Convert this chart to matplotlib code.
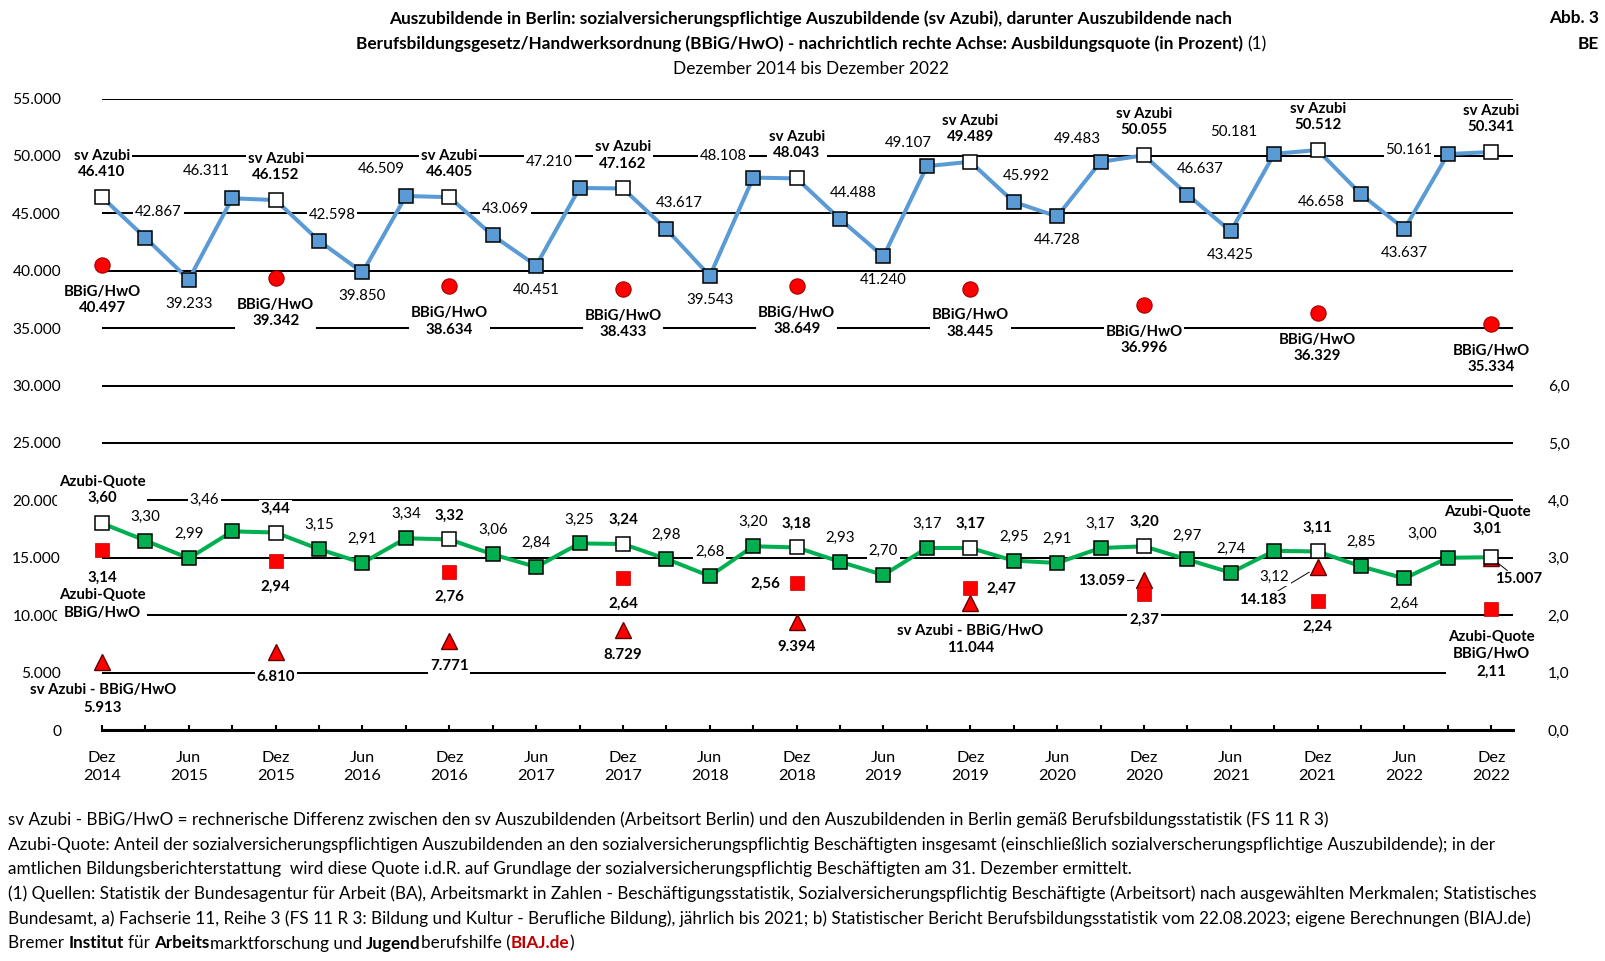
import matplotlib
matplotlib.use("Agg")
import matplotlib.pyplot as plt

plt.rcParams['font.family'] = ['Lato', 'DejaVu Sans']

DPI = 100
W, H = 1605, 961

# Daten (Quartale Dez 2014 bis Dez 2022)
tick_labels = ["Dez\n2014", "Jun\n2015", "Dez\n2015", "Jun\n2016", "Dez\n2016", "Jun\n2017",
               "Dez\n2017", "Jun\n2018", "Dez\n2018", "Jun\n2019", "Dez\n2019", "Jun\n2020",
               "Dez\n2020", "Jun\n2021", "Dez\n2021", "Jun\n2022", "Dez\n2022"]

sv_azubi = [46410, 42867, 39233, 46311, 46152, 42598, 39850, 46509, 46405,
            43069, 40451, 47210, 47162, 43617, 39543, 48108, 48043,
            44488, 41240, 49107, 49489, 45992, 44728, 49483, 50055,
            46637, 43425, 50181, 50512, 46658, 43637, 50161, 50341]

azubi_quote = [3.60, 3.30, 2.99, 3.46, 3.44, 3.15, 2.91, 3.34, 3.32,
               3.06, 2.84, 3.25, 3.24, 2.98, 2.68, 3.20, 3.18,
               2.93, 2.70, 3.17, 3.17, 2.95, 2.91, 3.17, 3.20,
               2.97, 2.74, 3.12, 3.11, 2.85, 2.64, 3.00, 3.01]

# jeweils Dezember
bbig_hwo = [40497, 39342, 38634, 38433, 38649, 38445, 36996, 36329, 35334]
quote_bbig = [3.14, 2.94, 2.76, 2.64, 2.56, 2.47, 2.37, 2.24, 2.11]
diff_sv_bbig = [5913, 6810, 7771, 8729, 9394, 11044, 13059, 14183, 15007]

footer = [
    "sv Azubi - BBiG/HwO = rechnerische Differenz zwischen den sv Auszubildenden (Arbeitsort Berlin) und den Auszubildenden in Berlin gemäß Berufsbildungsstatistik (FS 11 R 3)",
    "Azubi-Quote: Anteil der sozialversicherungspflichtigen Auszubildenden an den sozialversicherungspflichtig Beschäftigten insgesamt (einschließlich sozialverscherungspflichtige Auszubildende); in der",
    "amtlichen Bildungsberichterstattung  wird diese Quote i.d.R. auf Grundlage der sozialversicherungspflichtig Beschäftigten am 31. Dezember ermittelt.",
    "(1) Quellen: Statistik der Bundesagentur für Arbeit (BA), Arbeitsmarkt in Zahlen - Beschäftigungsstatistik, Sozialversicherungspflichtig Beschäftigte (Arbeitsort) nach ausgewählten Merkmalen; Statistisches",
    "Bundesamt, a) Fachserie 11, Reihe 3 (FS 11 R 3: Bildung und Kultur - Berufliche Bildung), jährlich bis 2021; b) Statistischer Bericht Berufsbildungsstatistik vom 22.08.2023; eigene Berechnungen (BIAJ.de)",
]

BLUE = '#5B9BD5'
GREEN = '#00B050'
RED = '#FF0000'
LBL = 10.8


def fmt_int(v):
    return f"{v:,}".replace(",", ".")


def fmt_q(v):
    return f"{v:.2f}".replace(".", ",")


def off(dx, dy):
    # Pixel-Versatz (y nach unten) -> Punkte
    return (dx * 72 / DPI, -dy * 72 / DPI)


def label(ax, x, y, txt, dxdy, bold=False, ls=1.2, leader=False):
    kw = {}
    if leader:
        kw['arrowprops'] = dict(arrowstyle='-', color='black', lw=0.7, shrinkA=0, shrinkB=7)
    ax.annotate(txt, xy=(x, y), xytext=off(*dxdy), textcoords='offset points',
                ha='center', va='center', fontsize=LBL, linespacing=ls,
                fontweight='bold' if bold else 'normal', annotation_clip=False,
                bbox=dict(boxstyle='square,pad=0.12', fc='white', ec='none'),
                zorder=20, **kw)


def text_width(fig, r, s, size, weight):
    # Vorschubbreite ueber Referenzzeichen messen
    t = fig.text(0, 0, "I" + s + "I", fontsize=size, fontweight=weight)
    w_all = t.get_window_extent(r).width
    t.set_text("II")
    w_ref = t.get_window_extent(r).width
    t.remove()
    return w_all - w_ref


def draw_runs(fig, x_px, y_px, runs, size, center=False):
    r = fig.canvas.get_renderer()
    widths = [text_width(fig, r, txt, size, weight) for txt, weight, _ in runs]
    total = sum(widths)
    x = x_px - total / 2 if center else x_px
    for (txt, weight, color), w in zip(runs, widths):
        core = txt.lstrip(" ")
        lead = text_width(fig, r, txt[:len(txt) - len(core)], size, weight) if core != txt else 0
        fig.text((x + lead) / W, 1 - y_px / H, core, fontsize=size, fontweight=weight,
                 color=color, ha='left', va='center')
        x += w


fig = plt.figure(figsize=(W / DPI, H / DPI), dpi=DPI)
ax = fig.add_axes([102 / W, 1 - 730 / H, (1513 - 102) / W, (730 - 98.5) / H])
ax2 = ax.twinx()

xs = list(range(len(sv_azubi)))
dez = xs[::4]

ax.set_xlim(0, 32.5)
ax.set_ylim(0, 55000)
ax2.set_ylim(0, 11)

# Gitter / Achsen
ax.set_yticks(range(0, 55001, 5000))
ax.set_yticklabels([fmt_int(v) for v in range(0, 55001, 5000)])
ax.grid(axis='y', color='black', lw=1.45, zorder=0)
ax.set_axisbelow(True)
ax.set_xticks(xs[::2])
ax.set_xticklabels(tick_labels, linespacing=1.4)
ax.set_xticks(xs[1::2], minor=True)
ax.tick_params(axis='x', which='both', direction='in', length=3.5, width=1.5, pad=15, labelsize=11.8)
ax.tick_params(axis='y', length=0, pad=29.5, labelsize=11.2)
for s in ['top', 'left', 'right']:
    ax.spines[s].set_visible(False)
    ax2.spines[s].set_visible(False)
ax.spines['bottom'].set_linewidth(2.2)
ax2.spines['bottom'].set_visible(False)
ax2.set_yticks(range(7))
ax2.set_yticklabels([f"{v},0" for v in range(7)])
ax2.tick_params(axis='y', length=0, pad=25, labelsize=11.2)

# sv Azubi (blau)
ax.plot(xs, sv_azubi, color=BLUE, lw=2.9, zorder=3, clip_on=False)
ax.plot([x for x in xs if x % 4], [v for i, v in enumerate(sv_azubi) if i % 4], 's', ms=9.6,
        mfc=BLUE, mec='black', mew=1.1, zorder=4, clip_on=False)
ax.plot(dez, sv_azubi[::4], 's', ms=9.6, mfc='white', mec='black', mew=1.1, zorder=4, clip_on=False)

# BBiG/HwO (rote Kreise), Differenz (rote Dreiecke)
ax.plot(dez, bbig_hwo, 'o', ms=11, mfc=RED, mec='#A00000', mew=0.8, zorder=4, clip_on=False)
ax.plot(dez, diff_sv_bbig, '^', ms=11, mfc=RED, mec='#600000', mew=1.0, zorder=4, clip_on=False)

# Azubi-Quote (gruen), Quote BBiG/HwO (rote Quadrate) auf rechter Achse
ax2.plot(dez, quote_bbig, 's', ms=9.8, mfc=RED, mec='#C00000', mew=0.5, zorder=3, clip_on=False)
ax2.plot(xs, azubi_quote, color=GREEN, lw=2.9, zorder=4, clip_on=False)
ax2.plot([x for x in xs if x % 4], [v for i, v in enumerate(azubi_quote) if i % 4], 's', ms=9.6,
         mfc=GREEN, mec='black', mew=1.1, zorder=5, clip_on=False)
ax2.plot(dez, azubi_quote[::4], 's', ms=9.6, mfc='white', mec='black', mew=1.1, zorder=5, clip_on=False)

# Beschriftungen blau
blue_sep = [(-26, -27), (-25, -27), (-30, -26), (-30, -22), (-19, -23), (-23, -23), (-40, -22), (-39, -4)]
for i, v in enumerate(sv_azubi):
    q = i % 4
    if q == 0:
        label(ax, i, v, "sv Azubi\n" + fmt_int(v), (0, -33), bold=True)
        continue
    if i == 29:
        d = (-40, 8)
    elif q == 1:
        d = (13, -26)
    elif q == 2:
        d = (0, 24)
    else:
        d = blue_sep[i // 4]
    label(ax, i, v, fmt_int(v), d)

# Beschriftungen gruen
green_exc = {3: (-28, -31), 27: (0, 26), 30: (0, 25), 31: (-26, -24)}
for i, v in enumerate(azubi_quote):
    if i == 0:
        label(ax2, i, v, "Azubi-Quote\n" + fmt_q(v), (0, -33.5), bold=True)
    elif i == 32:
        label(ax2, i, v, "Azubi-Quote\n" + fmt_q(v), (-4, -37), bold=True)
    else:
        label(ax2, i, v, fmt_q(v), green_exc.get(i, (0, -24)), bold=(i % 4 == 0))

# Beschriftungen Dezember-Reihen
for j, x in enumerate(dez):
    label(ax, x, bbig_hwo[j], "BBiG/HwO\n" + fmt_int(bbig_hwo[j]), (0, 35), bold=True)

    q = fmt_q(quote_bbig[j])
    if j == 0:
        label(ax2, x, quote_bbig[j], q + "\nAzubi-Quote\nBBiG/HwO", (0, 45.7), bold=True, ls=1.3)
    elif j == 8:
        label(ax2, x, quote_bbig[j], "Azubi-Quote\nBBiG/HwO\n" + q, (0, 45.3), bold=True, ls=1.3)
    elif j == 4:
        label(ax2, x, quote_bbig[j], q, (-31, 1), bold=True)
    elif j == 5:
        label(ax2, x, quote_bbig[j], q, (31, 1), bold=True)
    else:
        label(ax2, x, quote_bbig[j], q, (0, 25.5), bold=True)

    d = fmt_int(diff_sv_bbig[j])
    if j == 0:
        label(ax, x, diff_sv_bbig[j], "sv Azubi - BBiG/HwO\n" + d, (1, 37), bold=True, ls=1.3)
    elif j == 5:
        label(ax, x, diff_sv_bbig[j], "sv Azubi - BBiG/HwO\n" + d, (0, 36), bold=True, ls=1.3)
    elif j == 6:
        label(ax, x, diff_sv_bbig[j], d, (-42.5, 1), bold=True, leader=True)
    elif j == 7:
        label(ax, x, diff_sv_bbig[j], d, (-54.5, 32.7), bold=True, leader=True)
    elif j == 8:
        label(ax, x, diff_sv_bbig[j], d, (27, 21.7), bold=True, leader=True)
    else:
        label(ax, x, diff_sv_bbig[j], d, (0, 25), bold=True)

# Titel
fig.canvas.draw()
TS = 12.4
draw_runs(fig, 811, 18.4, [("Auszubildende in Berlin: sozialversicherungspflichtige Auszubildende (sv Azubi), darunter Auszubildende nach", 'bold', 'black')], TS, center=True)
draw_runs(fig, 811, 44, [("Berufsbildungsgesetz/Handwerksordnung (BBiG/HwO) - nachrichtlich rechte Achse: Ausbildungsquote (in Prozent)", 'bold', 'black'),
                         (" (1)", 'normal', 'black')], TS, center=True)
fig.text(811 / W, 1 - 68.6 / H, "Dezember 2014 bis Dezember 2022", ha='center', va='center', fontsize=TS)
fig.text(1599 / W, 1 - 18.4 / H, "Abb. 3", ha='right', va='center', fontsize=TS, fontweight='bold')
fig.text(1599 / W, 1 - 44 / H, "BE", ha='right', va='center', fontsize=TS, fontweight='bold')

# Fussnoten
FS = 12.3
for k, line in enumerate(footer):
    fig.text(8 / W, 1 - (820 + k * 24.7) / H, line, ha='left', va='center', fontsize=FS)
draw_runs(fig, 8, 820 + 5 * 24.7, [("Bremer ", 'normal', 'black'), ("Institut", 'bold', 'black'),
                                   (" für ", 'normal', 'black'), ("Arbeits", 'bold', 'black'),
                                   ("marktforschung und ", 'normal', 'black'), ("Jugend", 'bold', 'black'),
                                   ("berufshilfe (", 'normal', 'black'), ("BIAJ.de", 'bold', '#C00000'),
                                   (")", 'normal', 'black')], FS)

fig.savefig("out.png", dpi=DPI)
